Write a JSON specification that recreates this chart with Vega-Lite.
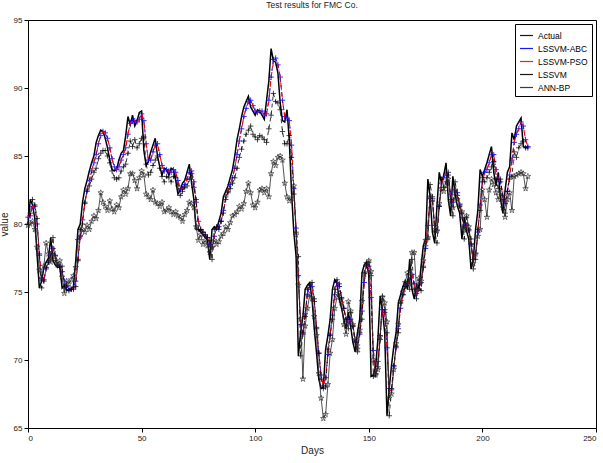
{
"$schema":"https://vega.github.io/schema/vega-lite/v6.json",
"width":568,"height":408,
"autosize":{"type":"none"},
"padding":{"left":28,"top":20,"right":7,"bottom":35},
"background":"white",
"title":{"text":"Test results for FMC Co.","fontSize":8.5,"font":"Liberation Sans","fontWeight":"normal","color":"#222","offset":7,"anchor":"middle"},
"config":{"view":{"stroke":"#000","strokeWidth":1},"font":"Liberation Sans"},
"data":{"values":[
{"d":0,"a":80.0,"b":80.5,"p":80.5,"l":80.0,"n":79.9},
{"d":1,"a":81.8,"b":80.6,"p":80.6,"l":80.8,"n":80.0},
{"d":2,"a":81.4,"b":81.3,"p":81.3,"l":81.8,"n":80.2},
{"d":3,"a":80.4,"b":81.3,"p":81.3,"l":81.4,"n":79.6},
{"d":4,"a":77.7,"b":80.0,"p":80.0,"l":80.4,"n":78.3},
{"d":5,"a":75.3,"b":77.8,"p":77.6,"l":77.7,"n":76.6},
{"d":6,"a":75.8,"b":76.0,"p":76.0,"l":75.3,"n":76.0},
{"d":7,"a":76.8,"b":75.9,"p":75.9,"l":75.8,"n":76.9},
{"d":8,"a":77.2,"b":76.7,"p":76.7,"l":76.8,"n":78.6},
{"d":9,"a":77.5,"b":77.2,"p":77.2,"l":77.2,"n":77.8},
{"d":10,"a":79.0,"b":77.8,"p":77.8,"l":77.5,"n":77.2},
{"d":11,"a":77.3,"b":78.2,"p":78.2,"l":79.0,"n":77.9},
{"d":12,"a":77.0,"b":77.7,"p":77.7,"l":77.3,"n":77.6},
{"d":13,"a":76.8,"b":77.0,"p":77.0,"l":77.0,"n":77.0},
{"d":14,"a":76.9,"b":76.9,"p":76.9,"l":76.8,"n":77.3},
{"d":15,"a":75.3,"b":76.5,"p":76.5,"l":76.9,"n":76.1},
{"d":16,"a":75.5,"b":75.8,"p":75.8,"l":75.3,"n":74.9},
{"d":17,"a":75.1,"b":75.4,"p":75.4,"l":75.5,"n":75.8},
{"d":18,"a":75.2,"b":75.2,"p":75.2,"l":75.1,"n":75.6},
{"d":19,"a":75.2,"b":75.2,"p":75.2,"l":75.2,"n":75.9},
{"d":20,"a":75.4,"b":75.3,"p":75.3,"l":75.2,"n":76.2},
{"d":21,"a":77.3,"b":75.8,"p":75.8,"l":75.4,"n":76.8},
{"d":22,"a":79.6,"b":77.4,"p":77.4,"l":77.3,"n":78.8},
{"d":23,"a":80.0,"b":79.1,"p":79.1,"l":79.6,"n":79.1},
{"d":24,"a":81.6,"b":80.3,"p":80.3,"l":80.0,"n":79.6},
{"d":25,"a":82.6,"b":81.5,"p":81.5,"l":81.6,"n":79.4},
{"d":26,"a":83.2,"b":82.5,"p":82.5,"l":82.4,"n":79.9},
{"d":27,"a":83.9,"b":83.2,"p":83.2,"l":82.8,"n":79.6},
{"d":28,"a":84.5,"b":83.9,"p":83.9,"l":83.3,"n":80.2},
{"d":29,"a":85.0,"b":84.5,"p":84.5,"l":83.8,"n":80.6},
{"d":30,"a":86.0,"b":85.1,"p":85.1,"l":84.1,"n":80.4},
{"d":31,"a":86.5,"b":85.9,"p":85.9,"l":84.8,"n":81.0},
{"d":32,"a":86.9,"b":86.5,"p":86.5,"l":85.2,"n":82.3},
{"d":33,"a":86.8,"b":86.8,"p":86.8,"l":85.4,"n":81.6},
{"d":34,"a":86.3,"b":86.7,"p":86.7,"l":85.4,"n":81.3},
{"d":35,"a":85.6,"b":86.3,"p":86.3,"l":85.0,"n":81.0},
{"d":36,"a":84.7,"b":85.6,"p":85.6,"l":84.5,"n":81.7},
{"d":37,"a":84.0,"b":84.8,"p":84.8,"l":83.9,"n":81.1},
{"d":38,"a":83.9,"b":84.2,"p":84.2,"l":83.4,"n":80.9},
{"d":39,"a":84.0,"b":84.0,"p":84.0,"l":83.3,"n":81.4},
{"d":40,"a":84.7,"b":84.2,"p":84.2,"l":83.4,"n":81.2},
{"d":41,"a":85.2,"b":84.7,"p":84.7,"l":83.9,"n":82.0},
{"d":42,"a":85.4,"b":85.1,"p":85.1,"l":84.2,"n":82.5},
{"d":43,"a":86.5,"b":85.6,"p":85.6,"l":84.4,"n":82.2},
{"d":44,"a":87.9,"b":86.6,"p":86.6,"l":85.2,"n":82.6},
{"d":45,"a":87.3,"b":87.4,"p":87.4,"l":86.1,"n":83.7},
{"d":46,"a":88.0,"b":87.6,"p":87.6,"l":85.7,"n":83.7},
{"d":47,"a":87.2,"b":87.6,"p":87.6,"l":86.2,"n":83.2},
{"d":48,"a":87.6,"b":87.5,"p":87.5,"l":85.6,"n":82.6},
{"d":49,"a":88.2,"b":87.7,"p":87.7,"l":85.9,"n":83.4},
{"d":50,"a":88.3,"b":88.1,"p":88.1,"l":86.3,"n":83.9},
{"d":51,"a":85.4,"b":87.6,"p":87.6,"l":86.4,"n":83.6},
{"d":52,"a":84.3,"b":85.9,"p":85.9,"l":84.4,"n":82.2},
{"d":53,"a":84.6,"b":84.7,"p":84.7,"l":83.6,"n":82.0},
{"d":54,"a":85.3,"b":84.7,"p":84.7,"l":83.8,"n":81.8},
{"d":55,"a":85.8,"b":85.3,"p":85.3,"l":84.3,"n":82.5},
{"d":56,"a":86.3,"b":85.8,"p":85.8,"l":84.7,"n":81.6},
{"d":57,"a":85.0,"b":85.9,"p":85.9,"l":85.0,"n":81.5},
{"d":58,"a":84.2,"b":85.1,"p":85.1,"l":84.1,"n":81.3},
{"d":59,"a":83.6,"b":84.3,"p":84.3,"l":83.5,"n":81.6},
{"d":60,"a":84.1,"b":83.9,"p":83.9,"l":83.1,"n":80.9},
{"d":61,"a":84.0,"b":84.0,"p":84.0,"l":83.5,"n":81.0},
{"d":62,"a":83.6,"b":83.9,"p":83.9,"l":83.4,"n":81.2},
{"d":63,"a":84.1,"b":83.8,"p":83.8,"l":83.1,"n":80.9},
{"d":64,"a":84.0,"b":84.0,"p":84.0,"l":83.5,"n":80.7},
{"d":65,"a":83.2,"b":83.8,"p":83.8,"l":83.4,"n":80.9},
{"d":66,"a":82.2,"b":83.2,"p":83.2,"l":82.8,"n":80.6},
{"d":67,"a":82.5,"b":82.5,"p":82.5,"l":82.1,"n":80.5},
{"d":68,"a":83.0,"b":82.6,"p":82.6,"l":82.4,"n":80.2},
{"d":69,"a":83.2,"b":82.9,"p":82.9,"l":82.7,"n":80.7},
{"d":70,"a":83.8,"b":83.3,"p":83.3,"l":82.8,"n":81.0},
{"d":71,"a":84.4,"b":83.8,"p":83.8,"l":83.3,"n":81.6},
{"d":72,"a":83.0,"b":83.9,"p":83.9,"l":83.7,"n":81.5},
{"d":73,"a":81.8,"b":83.1,"p":83.1,"l":82.7,"n":81.2},
{"d":74,"a":79.6,"b":81.6,"p":81.6,"l":81.8,"n":79.8},
{"d":75,"a":79.6,"b":80.2,"p":80.2,"l":79.6,"n":78.8},
{"d":76,"a":79.4,"b":79.6,"p":79.6,"l":79.6,"n":79.2},
{"d":77,"a":79.2,"b":79.4,"p":79.4,"l":79.4,"n":78.5},
{"d":78,"a":79.0,"b":79.2,"p":79.2,"l":79.2,"n":78.8},
{"d":79,"a":78.8,"b":79.0,"p":79.0,"l":79.0,"n":78.4},
{"d":80,"a":77.4,"b":78.5,"p":78.5,"l":78.8,"n":77.9},
{"d":81,"a":79.6,"b":78.3,"p":78.3,"l":77.4,"n":78.3},
{"d":82,"a":79.8,"b":79.1,"p":79.1,"l":79.6,"n":78.8},
{"d":83,"a":79.6,"b":79.7,"p":79.7,"l":79.8,"n":78.5},
{"d":84,"a":80.2,"b":79.8,"p":79.8,"l":79.6,"n":78.7},
{"d":85,"a":80.8,"b":80.2,"p":80.2,"l":80.2,"n":79.1},
{"d":86,"a":82.0,"b":81.0,"p":81.0,"l":80.8,"n":79.3},
{"d":87,"a":82.4,"b":81.8,"p":81.8,"l":82.0,"n":79.8},
{"d":88,"a":82.8,"b":82.4,"p":82.4,"l":82.3,"n":79.6},
{"d":89,"a":83.4,"b":82.9,"p":82.9,"l":82.6,"n":80.1},
{"d":90,"a":84.0,"b":83.4,"p":83.4,"l":83.0,"n":80.6},
{"d":91,"a":85.0,"b":84.1,"p":84.1,"l":83.4,"n":80.7},
{"d":92,"a":86.2,"b":85.1,"p":85.1,"l":84.1,"n":80.9},
{"d":93,"a":87.0,"b":86.1,"p":86.1,"l":84.9,"n":81.3},
{"d":94,"a":87.9,"b":87.0,"p":87.0,"l":85.5,"n":81.1},
{"d":95,"a":88.6,"b":87.9,"p":87.9,"l":86.1,"n":81.5},
{"d":96,"a":89.0,"b":88.5,"p":88.5,"l":86.6,"n":82.4},
{"d":97,"a":89.4,"b":89.0,"p":89.0,"l":86.9,"n":83.0},
{"d":98,"a":88.6,"b":89.1,"p":89.1,"l":87.2,"n":82.3},
{"d":99,"a":88.3,"b":88.7,"p":88.7,"l":86.6,"n":81.4},
{"d":100,"a":88.0,"b":88.3,"p":88.3,"l":86.4,"n":81.2},
{"d":101,"a":88.4,"b":88.2,"p":88.2,"l":86.2,"n":81.6},
{"d":102,"a":88.3,"b":88.3,"p":88.3,"l":86.5,"n":82.5},
{"d":103,"a":88.0,"b":88.3,"p":88.3,"l":86.4,"n":82.6},
{"d":104,"a":87.7,"b":88.0,"p":88.0,"l":86.2,"n":82.3},
{"d":105,"a":89.1,"b":88.1,"p":88.1,"l":86.0,"n":82.6},
{"d":106,"a":90.5,"b":89.1,"p":89.1,"l":87.0,"n":82.0},
{"d":107,"a":92.9,"b":90.8,"p":90.8,"l":88.0,"n":83.7},
{"d":108,"a":92.0,"b":92.1,"p":91.9,"l":89.6,"n":84.6},
{"d":109,"a":91.9,"b":92.2,"p":92.0,"l":89.0,"n":84.3},
{"d":110,"a":91.1,"b":91.7,"p":91.7,"l":88.9,"n":84.9},
{"d":111,"a":88.9,"b":90.8,"p":90.8,"l":88.4,"n":85.0},
{"d":112,"a":87.6,"b":89.1,"p":89.1,"l":86.8,"n":84.7},
{"d":113,"a":87.5,"b":87.9,"p":87.9,"l":85.9,"n":83.0},
{"d":114,"a":88.4,"b":87.8,"p":87.8,"l":85.9,"n":82.0},
{"d":115,"a":86.2,"b":87.6,"p":87.6,"l":86.5,"n":81.7},
{"d":116,"a":82.3,"b":85.8,"p":85.8,"l":84.9,"n":81.9},
{"d":117,"a":79.4,"b":82.6,"p":82.6,"l":82.2,"n":82.8},
{"d":118,"a":77.6,"b":79.7,"p":79.7,"l":79.4,"n":79.2},
{"d":119,"a":70.3,"b":76.2,"p":76.2,"l":77.6,"n":75.5},
{"d":120,"a":72.0,"b":72.6,"p":72.6,"l":70.3,"n":73.0},
{"d":121,"a":73.2,"b":71.9,"p":71.9,"l":72.0,"n":68.6},
{"d":122,"a":75.2,"b":73.4,"p":73.4,"l":73.2,"n":72.5},
{"d":123,"a":75.5,"b":74.8,"p":74.8,"l":75.2,"n":73.8},
{"d":124,"a":75.7,"b":75.5,"p":75.5,"l":75.5,"n":74.8},
{"d":125,"a":74.5,"b":75.4,"p":75.4,"l":75.7,"n":74.5},
{"d":126,"a":72.3,"b":74.3,"p":74.3,"l":74.5,"n":73.2},
{"d":127,"a":70.5,"b":72.4,"p":72.4,"l":72.3,"n":71.8},
{"d":128,"a":68.6,"b":70.5,"p":70.5,"l":70.5,"n":69.0},
{"d":129,"a":67.9,"b":68.9,"p":68.9,"l":68.6,"n":67.2},
{"d":130,"a":68.0,"b":68.1,"p":68.1,"l":67.9,"n":65.7},
{"d":131,"a":70.8,"b":68.7,"p":68.7,"l":68.0,"n":66.0},
{"d":132,"a":71.8,"b":70.4,"p":70.4,"l":70.8,"n":68.2},
{"d":133,"a":73.0,"b":71.9,"p":71.9,"l":71.8,"n":70.5},
{"d":134,"a":75.2,"b":73.3,"p":73.3,"l":73.0,"n":71.5},
{"d":135,"a":75.9,"b":74.8,"p":74.8,"l":75.2,"n":73.8},
{"d":136,"a":75.6,"b":75.7,"p":75.7,"l":75.9,"n":74.6},
{"d":137,"a":74.5,"b":75.4,"p":75.4,"l":75.6,"n":74.9},
{"d":138,"a":73.8,"b":74.6,"p":74.6,"l":74.5,"n":74.2},
{"d":139,"a":73.0,"b":73.8,"p":73.8,"l":73.8,"n":72.6},
{"d":140,"a":72.3,"b":73.0,"p":73.0,"l":73.0,"n":71.9},
{"d":141,"a":73.5,"b":72.8,"p":72.8,"l":72.3,"n":74.3},
{"d":142,"a":72.5,"b":73.0,"p":73.0,"l":73.5,"n":73.6},
{"d":143,"a":71.3,"b":72.5,"p":72.5,"l":72.5,"n":72.6},
{"d":144,"a":70.6,"b":71.4,"p":71.4,"l":71.3,"n":71.5},
{"d":145,"a":72.0,"b":71.1,"p":71.1,"l":70.6,"n":70.8},
{"d":146,"a":73.0,"b":71.9,"p":71.9,"l":72.0,"n":72.2},
{"d":147,"a":76.4,"b":73.6,"p":73.6,"l":73.0,"n":74.3},
{"d":148,"a":77.0,"b":75.7,"p":75.7,"l":76.4,"n":76.3},
{"d":149,"a":77.2,"b":76.9,"p":76.9,"l":77.0,"n":77.1},
{"d":150,"a":76.2,"b":76.9,"p":76.9,"l":77.2,"n":77.3},
{"d":151,"a":68.8,"b":74.6,"p":74.6,"l":76.2,"n":76.5},
{"d":152,"a":68.9,"b":70.7,"p":70.7,"l":68.8,"n":70.0},
{"d":153,"a":69.5,"b":69.0,"p":69.0,"l":68.9,"n":68.9},
{"d":154,"a":71.5,"b":69.9,"p":69.9,"l":69.5,"n":69.3},
{"d":155,"a":74.7,"b":71.8,"p":71.8,"l":71.5,"n":71.7},
{"d":156,"a":73.7,"b":73.7,"p":73.7,"l":74.7,"n":74.6},
{"d":157,"a":72.0,"b":73.5,"p":73.5,"l":73.7,"n":74.2},
{"d":158,"a":65.9,"b":70.9,"p":70.9,"l":72.0,"n":72.8},
{"d":159,"a":67.9,"b":67.9,"p":67.7,"l":65.9,"n":67.2},
{"d":160,"a":69.6,"b":67.8,"p":67.8,"l":67.9,"n":67.5},
{"d":161,"a":71.0,"b":69.5,"p":69.5,"l":69.6,"n":69.3},
{"d":162,"a":72.0,"b":70.9,"p":70.9,"l":71.0,"n":71.2},
{"d":163,"a":74.2,"b":72.3,"p":72.3,"l":72.0,"n":72.6},
{"d":164,"a":74.8,"b":73.8,"p":73.8,"l":74.2,"n":74.3},
{"d":165,"a":75.4,"b":74.8,"p":74.8,"l":74.8,"n":75.0},
{"d":166,"a":75.8,"b":75.4,"p":75.4,"l":75.4,"n":75.7},
{"d":167,"a":75.2,"b":75.6,"p":75.6,"l":75.8,"n":76.4},
{"d":168,"a":77.4,"b":75.9,"p":75.9,"l":75.2,"n":75.6},
{"d":169,"a":75.2,"b":76.3,"p":76.3,"l":77.4,"n":77.9},
{"d":170,"a":74.5,"b":75.6,"p":75.6,"l":75.2,"n":77.9},
{"d":171,"a":75.5,"b":74.9,"p":74.9,"l":74.5,"n":75.2},
{"d":172,"a":75.1,"b":75.2,"p":75.2,"l":75.5,"n":76.0},
{"d":173,"a":76.9,"b":75.7,"p":75.7,"l":75.1,"n":75.8},
{"d":174,"a":78.4,"b":76.8,"p":76.8,"l":76.9,"n":77.3},
{"d":175,"a":78.9,"b":78.2,"p":78.2,"l":78.4,"n":78.8},
{"d":176,"a":83.3,"b":79.9,"p":79.9,"l":78.9,"n":79.0},
{"d":177,"a":82.0,"b":81.9,"p":81.9,"l":82.9,"n":82.0},
{"d":178,"a":79.4,"b":81.7,"p":81.7,"l":82.0,"n":81.8},
{"d":179,"a":78.6,"b":79.9,"p":79.9,"l":79.4,"n":79.6},
{"d":180,"a":81.3,"b":79.5,"p":79.5,"l":78.6,"n":79.5},
{"d":181,"a":83.8,"b":81.3,"p":81.3,"l":81.3,"n":81.5},
{"d":182,"a":83.0,"b":83.0,"p":83.0,"l":83.3,"n":82.6},
{"d":183,"a":83.6,"b":83.4,"p":83.4,"l":82.7,"n":82.4},
{"d":184,"a":84.5,"b":83.7,"p":83.7,"l":83.1,"n":82.8},
{"d":185,"a":81.8,"b":83.6,"p":83.6,"l":83.8,"n":83.3},
{"d":186,"a":80.6,"b":82.2,"p":82.2,"l":81.8,"n":81.6},
{"d":187,"a":83.5,"b":81.6,"p":81.6,"l":80.6,"n":81.2},
{"d":188,"a":82.2,"b":82.5,"p":82.5,"l":83.1,"n":82.5},
{"d":189,"a":81.3,"b":82.3,"p":82.3,"l":82.1,"n":81.8},
{"d":190,"a":80.8,"b":81.4,"p":81.4,"l":81.3,"n":81.4},
{"d":191,"a":78.9,"b":80.5,"p":80.5,"l":80.8,"n":80.9},
{"d":192,"a":80.5,"b":79.8,"p":79.8,"l":78.9,"n":79.6},
{"d":193,"a":79.5,"b":79.9,"p":79.9,"l":80.5,"n":80.6},
{"d":194,"a":78.9,"b":79.6,"p":79.6,"l":79.5,"n":79.8},
{"d":195,"a":76.7,"b":78.5,"p":78.5,"l":78.9,"n":78.5},
{"d":196,"a":77.4,"b":77.4,"p":77.4,"l":76.7,"n":77.1},
{"d":197,"a":79.6,"b":77.8,"p":77.8,"l":77.4,"n":77.8},
{"d":198,"a":81.0,"b":79.4,"p":79.4,"l":79.6,"n":79.1},
{"d":199,"a":84.0,"b":81.4,"p":81.4,"l":81.0,"n":79.6},
{"d":200,"a":83.5,"b":83.1,"p":83.1,"l":83.4,"n":82.5},
{"d":201,"a":84.0,"b":83.8,"p":83.8,"l":83.1,"n":81.8},
{"d":202,"a":84.5,"b":84.0,"p":84.0,"l":83.4,"n":80.5},
{"d":203,"a":85.1,"b":84.5,"p":84.5,"l":83.8,"n":82.5},
{"d":204,"a":85.7,"b":85.1,"p":85.1,"l":84.2,"n":83.3},
{"d":205,"a":83.8,"b":85.1,"p":85.1,"l":84.6,"n":82.9},
{"d":206,"a":82.8,"b":84.0,"p":84.0,"l":83.3,"n":82.3},
{"d":207,"a":83.8,"b":83.3,"p":83.3,"l":82.6,"n":81.8},
{"d":208,"a":81.8,"b":83.1,"p":83.1,"l":83.3,"n":82.3},
{"d":209,"a":80.8,"b":82.1,"p":82.1,"l":81.8,"n":81.2},
{"d":210,"a":82.5,"b":81.5,"p":81.5,"l":80.8,"n":80.5},
{"d":211,"a":83.8,"b":82.4,"p":82.4,"l":82.4,"n":81.8},
{"d":212,"a":84.2,"b":83.6,"p":83.6,"l":83.3,"n":82.3},
{"d":213,"a":86.7,"b":84.7,"p":84.7,"l":83.5,"n":81.0},
{"d":214,"a":86.2,"b":86.0,"p":86.0,"l":85.3,"n":83.5},
{"d":215,"a":87.2,"b":86.6,"p":86.6,"l":84.9,"n":83.6},
{"d":216,"a":87.5,"b":87.0,"p":87.0,"l":85.6,"n":83.7},
{"d":217,"a":87.8,"b":87.5,"p":87.5,"l":85.9,"n":83.8},
{"d":218,"a":85.7,"b":87.2,"p":87.2,"l":86.1,"n":83.7},
{"d":219,"a":85.6,"b":86.2,"p":86.2,"l":85.6,"n":82.6},
{"d":220,"a":85.7,"b":85.7,"p":85.7,"l":85.6,"n":83.5}
]},
"transform":[{"fold":["a","b","p","l","n"],"as":["s","v"]}],
"encoding":{
"x":{"field":"d","type":"quantitative","scale":{"domain":[0,250],"nice":false},
 "axis":{"values":[0,50,100,150,200,250],"format":"d","title":"Days","titleFontSize":10,"titleFontWeight":"normal","titleColor":"#222","titlePadding":3,"labelFontSize":8,"labelColor":"#222","tickSize":4,"tickColor":"#000","labelPadding":2,"domain":false,"grid":false}},
"y":{"field":"v","type":"quantitative","scale":{"domain":[65,95],"nice":false,"zero":false},
 "axis":{"values":[65,70,75,80,85,90,95],"format":"d","title":"value","titleFontSize":10,"titleFontWeight":"normal","titleColor":"#222","titlePadding":4,"labelFontSize":8,"labelColor":"#222","tickSize":4,"tickColor":"#000","labelPadding":2,"domain":false,"grid":false}},
"color":{"field":"s","type":"nominal","scale":{"domain":["a","b","p","l","n"],"range":["#000000","#0000ff","#ff0000","#000000","#262626"]},
 "legend":{"title":null,"orient":"top-right","offset":4,"fillColor":"white","strokeColor":"#000","padding":4,"symbolType":"stroke","symbolSize":170,"symbolStrokeWidth":1.2,"labelFontSize":8.5,"labelFont":"Liberation Sans","labelColor":"#000","rowPadding":1,"labelExpr":"datum.label == 'a' ? 'Actual' : datum.label == 'b' ? 'LSSVM-ABC' : datum.label == 'p' ? 'LSSVM-PSO' : datum.label == 'l' ? 'LSSVM' : 'ANN-BP'"}}
},
"layer":[
{"transform":[{"filter":"datum.s == 'a'"}],"mark":{"type":"line","strokeWidth":1.5}},
{"transform":[{"filter":"datum.s == 'b'"}],"mark":{"type":"line","strokeWidth":0.9,"strokeDash":[4,3]}},
{"transform":[{"filter":"datum.s == 'b'"}],"mark":{"type":"point","shape":"M-1,0L1,0M0,-1L0,1","filled":false,"size":30,"strokeWidth":0.9,"opacity":0.9}},
{"transform":[{"filter":"datum.s == 'p'"}],"mark":{"type":"line","strokeWidth":1.1,"strokeDash":[5,2,1,2]}},
{"transform":[{"filter":"datum.s == 'l'"}],"mark":{"type":"line","strokeWidth":0.8,"strokeDash":[4,3]}},
{"transform":[{"filter":"datum.s == 'l'"}],"mark":{"type":"point","shape":"M-1,0L1,0M0,-1L0,1","filled":false,"size":30,"strokeWidth":0.8,"opacity":0.9}},
{"transform":[{"filter":"datum.s == 'n'"}],"mark":{"type":"line","strokeWidth":0.8}},
{"transform":[{"filter":"datum.s == 'n'"}],"mark":{"type":"point","shape":"M0,-1L0.235,-0.324L0.951,-0.309L0.38,0.124L0.588,0.809L0,0.4L-0.588,0.809L-0.38,0.124L-0.951,-0.309L-0.235,-0.324Z","filled":false,"size":34,"strokeWidth":0.7,"opacity":0.9}}
]
}
